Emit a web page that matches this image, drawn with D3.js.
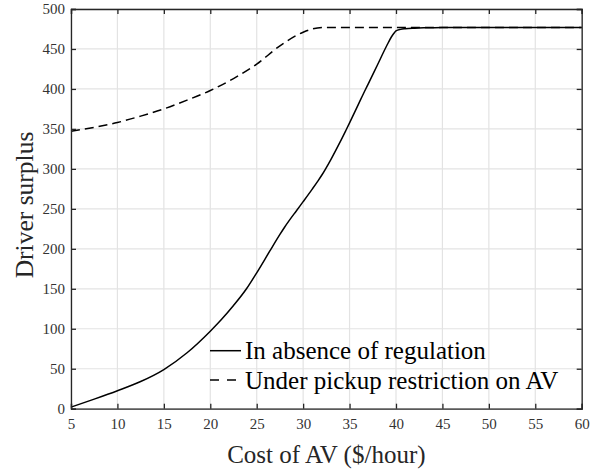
<!DOCTYPE html>
<html><head><meta charset="utf-8">
<script src="https://cdn.jsdelivr.net/npm/d3@7"></script>
<style>body{margin:0;background:#fff}svg{display:block}</style>
</head><body>
<svg id="c" width="597" height="470" font-family="Liberation Serif"></svg>
<script>
const costSolid = [5,7.5,10,12.5,15,17.5,20,21.2,22.5,23.9,25,26.4,27.5,28,29.3,30,31,31.6,32,33,34,34.6,35,36,36.7,37,38,39,39.5,39.8,40,40.5,41,42,43.3,45,50,55,60];
const surplusSolid = [2,12,22.5,34,49,70,97,111.5,129,150,170,197,218,227,248,259,275,285,292,312,334,348,357.5,382,399,406,430,454,465,470,472.5,474.5,475.3,476,476.5,477,477,477,477];
const costDashed = [5,7.5,10,12.5,15,17.5,20,22.5,25,27.5,30,31,32.5,35,40,45,50,55,60];
const surplusDashed = [347,352,358,366,375,386,398,413,431,454,471,475,477,477,477,477,477,477,477];
const xTicks = [5,10,15,20,25,30,35,40,45,50,55,60];
const yTicks = [0,50,100,150,200,250,300,350,400,450,500];
const legendLabels = ["In absence of regulation","Under pickup restriction on AV"];

const FONT = "Liberation Serif";
const svg = d3.select("#c");
const L=71, R=581.7, T=9, B=408.7;
const x = d3.scaleLinear().domain([5,60]).range([L,R]);
const y = d3.scaleLinear().domain([0,500]).range([B,T]);

// grid
svg.append("g").selectAll("line").data(xTicks).join("line")
  .attr("x1",d=>x(d)).attr("x2",d=>x(d)).attr("y1",T).attr("y2",B)
  .attr("stroke","#e3e3e3").attr("stroke-width",1.2);
svg.append("g").selectAll("line").data(yTicks).join("line")
  .attr("y1",d=>y(d)).attr("y2",d=>y(d)).attr("x1",L).attr("x2",R)
  .attr("stroke","#e3e3e3").attr("stroke-width",1.2);

// curves
const line = d3.line().x(d=>x(d[0])).y(d=>y(d[1])).curve(d3.curveMonotoneX);
svg.append("path").datum(costSolid.map((c,i)=>[c,surplusSolid[i]]))
  .attr("d",line).attr("fill","none").attr("stroke","#000").attr("stroke-width",1.5);
svg.append("path").datum(costDashed.map((c,i)=>[c,surplusDashed[i]]))
  .attr("d",line).attr("fill","none").attr("stroke","#000").attr("stroke-width",1.5)
  .attr("stroke-dasharray","9,5");

// axes
const ax = "#262626";
const gx = svg.append("g").attr("transform",`translate(0,${B})`)
  .call(d3.axisBottom(x).tickValues(xTicks).tickSize(-5).tickPadding(10));
const gxt = svg.append("g").attr("transform",`translate(0,${T})`)
  .call(d3.axisTop(x).tickValues(xTicks).tickSize(-5).tickFormat(""));
const gy = svg.append("g").attr("transform",`translate(${L},0)`)
  .call(d3.axisLeft(y).tickValues(yTicks).tickSize(-5).tickPadding(6));
const gyr = svg.append("g").attr("transform",`translate(${R},0)`)
  .call(d3.axisRight(y).tickValues(yTicks).tickSize(-5).tickFormat(""));
[gx,gxt,gy,gyr].forEach(g=>{
  g.attr("font-family",FONT).attr("font-size",15);
  g.selectAll(".domain").attr("stroke",ax).attr("stroke-width",1.3);
  g.selectAll(".tick line").attr("stroke",ax).attr("stroke-width",1.3);
  g.selectAll("text").attr("font-family",FONT).attr("font-size",15).attr("fill","#333");
});

// axis titles
svg.append("text").attr("x",(L+R)/2).attr("y",463).attr("text-anchor","middle")
  .attr("font-family",FONT).attr("font-size",25).attr("fill","#262626").text("Cost of AV ($/hour)");
svg.append("text").attr("transform",`translate(33,205) rotate(-90)`).attr("text-anchor","middle")
  .attr("font-family",FONT).attr("font-size",25.5).attr("fill","#262626").text("Driver surplus");

// legend
const leg = svg.append("g");
const ly = [350.7, 380];
legendLabels.forEach((t,i)=>{
  leg.append("line").attr("x1",210).attr("x2",241).attr("y1",ly[i]).attr("y2",ly[i])
    .attr("stroke","#000").attr("stroke-width",1.5)
    .attr("stroke-dasharray", i===1 ? "9,8" : null);
  leg.append("text").attr("x",245).attr("y",ly[i]+8.5)
    .attr("font-family",FONT).attr("font-size",25).attr("fill","#000").text(t);
});
</script>
</body></html>
